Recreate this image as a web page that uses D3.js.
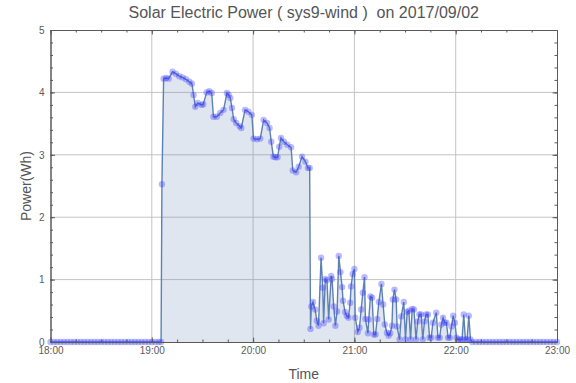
<!DOCTYPE html>
<html>
<head>
<meta charset="utf-8">
<script src="https://cdn.jsdelivr.net/npm/d3@7"></script>
<style>
  html, body { margin: 0; padding: 0; background: #fff; }
  svg { display: block; font-family: "Liberation Sans", Arial, Helvetica, sans-serif; }
</style>
</head>
<body>
<svg id="chart" width="576" height="383"></svg>
<script>
const titleText = "Solar Electric Power ( sys9-wind )  on 2017/09/02";
const xLabel = "Time";
const yLabel = "Power(Wh)";
const day = "2017-09-02";
const xDomain = ["18:00:00", "23:00:00"];
const yTicks = [0, 1, 2, 3, 4, 5];

// readings: time of day (HH:MM:SS) and power (Wh)
const times = [
  "18:00:00","18:02:00","18:04:00","18:06:00","18:08:00","18:10:00","18:12:00","18:14:00","18:16:00","18:18:00",
  "18:20:00","18:22:00","18:24:00","18:26:00","18:28:00","18:30:00","18:32:00","18:34:00","18:36:00","18:38:00",
  "18:40:00","18:42:00","18:44:00","18:46:00","18:48:00","18:50:00","18:52:00","18:54:00","18:56:00","18:58:00",
  "19:00:00","19:02:00","19:04:00","19:05:30",
  "19:06:00","19:07:00","19:08:30","19:10:00","19:12:15","19:14:15","19:16:15","19:18:15","19:20:15","19:22:15",
  "19:23:45","19:24:45","19:25:45","19:27:15","19:29:30","19:30:30","19:32:30","19:34:00","19:35:30","19:36:30",
  "19:38:30","19:40:30","19:42:30","19:44:30","19:45:30","19:46:30","19:47:30","19:48:30","19:50:00","19:52:00",
  "19:53:00","19:55:15","19:57:15","19:59:15","20:00:15","20:02:15","20:04:15","20:06:15","20:08:15","20:09:45",
  "20:10:45","20:12:00","20:13:15","20:14:30","20:15:30","20:16:30","20:18:15","20:20:15","20:22:30","20:23:30",
  "20:25:30","20:27:00","20:29:00","20:31:00","20:32:30","20:33:30",
  "20:34:00","20:34:30","20:35:30","20:36:45","20:37:45","20:38:45","20:40:15","20:41:15","20:41:45","20:42:45",
  "20:43:45","20:44:45","20:46:15","20:46:45","20:47:45","20:48:45","20:49:45","20:50:45","20:51:45","20:52:45",
  "20:53:15","20:54:30","20:55:30","20:56:30","20:57:30","20:58:00","20:59:00","21:00:00","21:00:30","21:02:00",
  "21:03:00","21:04:00","21:05:00","21:06:00","21:06:30","21:08:00","21:08:30","21:09:30","21:10:30","21:11:30",
  "21:12:30","21:13:30","21:14:30","21:16:00","21:17:00","21:18:00","21:19:15","21:20:15","21:21:15","21:22:15",
  "21:22:45","21:23:45","21:24:45","21:25:15","21:26:45","21:27:45","21:29:15","21:30:15","21:31:15","21:32:15",
  "21:33:15","21:34:15","21:35:15","21:36:30","21:37:30","21:38:30","21:39:30","21:40:30","21:41:30","21:42:30",
  "21:43:30","21:44:30","21:45:30","21:46:30","21:48:30","21:49:30","21:50:30","21:51:30","21:52:30","21:53:30",
  "21:54:30","21:55:30","21:56:30","21:57:30","21:58:30","21:59:30","22:00:30","22:01:30","22:02:45","22:03:45",
  "22:04:45","22:05:45","22:06:45","22:07:45","22:08:45","22:09:45",
  "22:12:00","22:14:00","22:16:00","22:18:00","22:20:00","22:22:00","22:24:00","22:26:00","22:28:00","22:30:00",
  "22:32:00","22:34:00","22:36:00","22:38:00","22:40:00","22:42:00","22:44:00","22:46:00","22:48:00","22:50:00",
  "22:52:00","22:54:00","22:56:00","22:58:00","23:00:00"
];
const power = [
  0,0,0,0,0,0,0,0,0,0,
  0,0,0,0,0,0,0,0,0,0,
  0,0,0,0,0,0,0,0,0,0,
  0,0,0,0,
  2.53,4.22,4.23,4.22,4.33,4.30,4.26,4.24,4.21,4.17,
  4.14,3.96,3.77,3.83,3.80,3.81,4.00,4.02,3.99,3.61,
  3.61,3.67,3.72,3.99,3.96,3.91,3.75,3.57,3.51,3.46,
  3.43,3.72,3.69,3.64,3.26,3.25,3.26,3.56,3.51,3.43,
  3.21,2.97,2.96,2.96,3.13,3.27,3.21,3.16,3.12,2.75,
  2.72,2.81,2.97,2.89,2.79,2.79,
  0.21,0.57,0.64,0.52,0.34,0.26,1.35,0.87,0.30,1.01,
  0.99,0.36,1.06,1.01,0.57,0.26,0.49,1.38,1.12,0.88,
  0.66,0.48,0.42,0.39,0.63,0.89,1.09,1.17,0.39,0.16,
  0.23,0.52,0.79,1.04,0.37,0.14,0.36,0.73,0.71,0.12,
  0.12,0.37,0.64,0.93,0.60,0.28,0.15,0.10,0.14,0.26,
  0.68,0.84,0.68,0.25,0.04,0.41,0.64,0.04,0.48,0.50,
  0.04,0.53,0.52,0.04,0.33,0.44,0.44,0.04,0.33,0.44,
  0.44,0.07,0.07,0.31,0.47,0.07,0.07,0.28,0.39,0.31,
  0.31,0.07,0.07,0.25,0.42,0.31,0.07,0.04,0.04,0.04,
  0.44,0.04,0.04,0.42,0.04,0,
  0,0,0,0,0,0,0,0,0,0,
  0,0,0,0,0,0,0,0,0,0,
  0,0,0,0,0
];

const parse = d3.timeParse("%Y-%m-%d %H:%M:%S");
const data = times.map((t, i) => ({ t: parse(day + " " + t), v: power[i] }));

const svg = d3.select("#chart");
const pLeft = 50.5, pRight = 557, pTop = 30, pBottom = 342;

const x = d3.scaleTime().domain(xDomain.map(t => parse(day + " " + t))).range([pLeft, pRight]);
const y = d3.scaleLinear().domain([0, 5]).range([pBottom, pTop]);

const hourTicks = d3.timeHour.every(1).range(x.domain()[0], d3.timeMinute.offset(x.domain()[1], 1));
const minorX = d3.timeMinute.every(15).range(x.domain()[0], d3.timeMinute.offset(x.domain()[1], 1));
const minorY = d3.range(0, 26).map(i => i / 5);

const axisColor = "#5a5a5a";
const gridColor = "#c4c4c4";

// grid
const grid = svg.append("g");
grid.selectAll("line.gx").data(hourTicks.slice(1, -1)).join("line")
  .attr("x1", d => x(d)).attr("x2", d => x(d)).attr("y1", pTop).attr("y2", pBottom)
  .attr("stroke", gridColor).attr("stroke-width", 1);
grid.selectAll("line.gy").data(yTicks.slice(1, -1)).join("line")
  .attr("y1", d => y(d)).attr("y2", d => y(d)).attr("x1", pLeft).attr("x2", pRight)
  .attr("stroke", gridColor).attr("stroke-width", 1);

// area fill
const area = d3.area().x(d => x(d.t)).y0(y(0)).y1(d => y(d.v));
svg.append("path").datum(data).attr("d", area)
  .attr("fill", "#5E81B5").attr("fill-opacity", 0.2);

// line
const line = d3.line().x(d => x(d.t)).y(d => y(d.v));
svg.append("path").datum(data).attr("d", line)
  .attr("fill", "none").attr("stroke", "#5E81B5").attr("stroke-width", 1.4);

// points
svg.append("g").selectAll("circle").data(data).join("circle")
  .attr("cx", d => x(d.t)).attr("cy", d => y(d.v)).attr("r", 3.2)
  .attr("fill", "#3a3aff").attr("fill-opacity", 0.35);

// frame axes
function styleAxis(g) {
  g.selectAll(".domain").attr("stroke", axisColor);
  g.selectAll(".tick line").attr("stroke", axisColor);
  g.selectAll(".tick text").attr("fill", axisColor).style("font-size", "10px")
    .style("font-family", '"Liberation Sans", Arial, sans-serif');
}
const fmt = d3.timeFormat("%H:%M");

svg.append("g").attr("transform", `translate(0,${pBottom})`)
  .call(d3.axisBottom(x).tickValues(minorX).tickSizeInner(-2.5).tickSizeOuter(0).tickFormat(""))
  .call(styleAxis);
svg.append("g").attr("transform", `translate(0,${pBottom})`)
  .call(d3.axisBottom(x).tickValues(hourTicks).tickSizeInner(-4.5).tickSizeOuter(0).tickPadding(5).tickFormat(fmt))
  .call(styleAxis);
svg.append("g").attr("transform", `translate(0,${pTop})`)
  .call(d3.axisTop(x).tickValues(minorX).tickSizeInner(-2.5).tickSizeOuter(0).tickFormat(""))
  .call(styleAxis);
svg.append("g").attr("transform", `translate(0,${pTop})`)
  .call(d3.axisTop(x).tickValues(hourTicks).tickSizeInner(-4.5).tickSizeOuter(0).tickFormat(""))
  .call(styleAxis);

svg.append("g").attr("transform", `translate(${pLeft},0)`)
  .call(d3.axisLeft(y).tickValues(minorY).tickSizeInner(-2.5).tickSizeOuter(0).tickFormat(""))
  .call(styleAxis);
svg.append("g").attr("transform", `translate(${pLeft},0)`)
  .call(d3.axisLeft(y).tickValues(yTicks).tickSizeInner(-4.5).tickSizeOuter(0).tickPadding(6).tickFormat(d3.format("d")))
  .call(styleAxis);
svg.append("g").attr("transform", `translate(${pRight},0)`)
  .call(d3.axisRight(y).tickValues(minorY).tickSizeInner(-2.5).tickSizeOuter(0).tickFormat(""))
  .call(styleAxis);
svg.append("g").attr("transform", `translate(${pRight},0)`)
  .call(d3.axisRight(y).tickValues(yTicks).tickSizeInner(-4.5).tickSizeOuter(0).tickFormat(""))
  .call(styleAxis);

// titles
svg.append("text").attr("x", (pLeft + pRight) / 2).attr("y", 18)
  .attr("text-anchor", "middle").attr("fill", "#555").style("font-size", "16px")
  .style("white-space", "pre").attr("xml:space", "preserve")
  .text(titleText);
svg.append("text").attr("x", (pLeft + pRight) / 2).attr("y", 379)
  .attr("text-anchor", "middle").attr("fill", "#555").style("font-size", "14px")
  .text(xLabel);
svg.append("text").attr("transform", `translate(31,${(pTop + pBottom) / 2}) rotate(-90)`)
  .attr("text-anchor", "middle").attr("fill", "#555").style("font-size", "14px")
  .text(yLabel);
</script>
</body>
</html>
